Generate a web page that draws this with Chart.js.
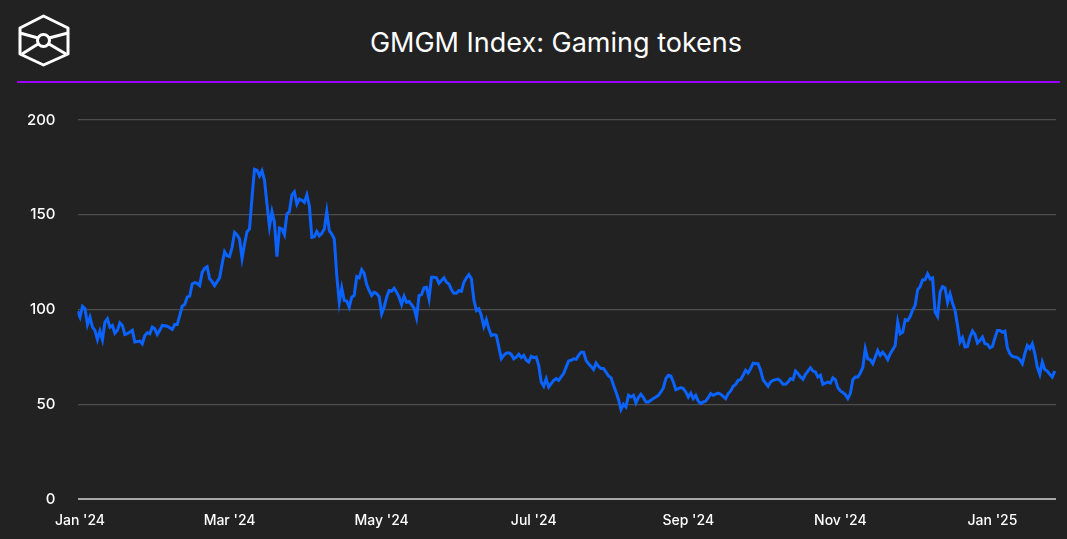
<!DOCTYPE html>
<html>
<head>
<meta charset="utf-8">
<script src="https://cdn.jsdelivr.net/npm/chart.js@4"></script>
<style>
body{margin:0;background:#222222;width:1067px;height:539px;overflow:hidden;font-family:Inter,"Noto Sans",sans-serif;}
#head{position:absolute;left:0;top:0;width:1067px;height:82px;}
#title{position:absolute;left:0;width:1112px;top:26px;text-align:center;color:#fff;font-size:27px;}
#rule{position:absolute;left:17px;top:81px;width:1043px;height:2px;background:#9b00ff;}
#logo{position:absolute;left:14px;top:12px;}
#wrap{position:absolute;left:0;top:84px;width:1067px;height:455px;}
</style>
</head>
<body>
<div id="head">
<svg id="logo" width="60" height="60" viewBox="14 12 60 60">
<g fill="none" stroke="#fff" stroke-width="3" stroke-linejoin="round">
<polygon points="43.5,16 68,28 68,54 43.5,65 20,54 20,28"/>
<circle cx="43.5" cy="40.5" r="6"/>
<line x1="20" y1="33" x2="38" y2="38"/>
<line x1="68" y1="33" x2="49" y2="38"/>
<line x1="22" y1="54" x2="38" y2="44"/>
<line x1="66" y1="54" x2="49" y2="44"/>
</g>
</svg>
<div id="title">GMGM Index: Gaming tokens</div>
<div id="rule"></div>
</div>
<div id="wrap"><canvas id="c"></canvas></div>
<script>
// days since 1 Jan 2024
const days=[-1,0,1,2,3,4,5,6,7,8,9,10,11,12,13,14,15,16,17,18,19,21,22,24,25,26,27,28,29,30,31,32,33,35,36,37,38,39,40,41,42,43,44,45,46,47,48,49,50,51,52,53,54,55,56,57,58,59,60,61,62,63,64,65,66,67,68,69,70,71,72,73,74,75,76,77,78,79,80,81,82,83,84,85,86,87,88,89,90,91,92,93,94,95,96,97,98,99,100,101,102,103,104,105,106,107,108,109,110,111,112,113,114,115,116,117,118,119,120,121,122,123,124,125,126,127,128,129,130,131,132,133,134,135,136,137,138,139,140,141,142,143,144,145,146,147,148,149,150,151,152,153,154,155,156,157,158,159,160,161,162,163,164,165,166,167,168,169,170,171,172,173,174,175,176,177,178,179,180,181,182,183,184,185,186,187,188,189,190,191,192,193,194,195,196,197,198,199,200,201,202,203,204,205,206,207,208,209,210,211,212,213,214,215,216,217,218,219,220,221,222,223,224,225,226,227,228,229,230,231,232,233,234,235,236,237,238,239,240,241,242,243,244,245,246,247,248,249,250,251,252,253,254,255,256,257,258,259,260,261,262,263,264,265,266,267,268,269,270,271,272,273,274,275,276,277,278,279,280,281,282,283,284,285,286,287,288,289,290,291,292,293,294,295,296,297,298,299,300,301,302,303,304,305,306,307,308,309,310,311,312,313,314,315,316,317,318,320,321,322,323,324,325,327,328,329,330,331,332,333,334,335,336,337,338,339,340,341,342,343,344,345,346,347,348,349,350,351,352,353,354,355,356,357,358,359,360,361,362,363,364,365,366,367,368,369,370,371,372,373,374,375,376,377,378,379,380,381,382,383,384,385,386,387,388,389,390,391];
const index=[99.1,96,101.7,100.5,92,96,90.7,89,84.2,88.6,84,93.3,95.1,90.7,91.6,87.5,89,93,91.6,86.8,87.2,89,82.8,83.3,81.9,86.3,87.7,87.2,90.7,89.8,86.8,89,91.6,91.2,90.4,89.5,92.1,92.1,96.8,101.7,102.6,106.5,107,113.5,114.2,113.8,112.6,119.6,121.7,122.6,116.2,114.7,112.6,114.7,116.7,124,130.5,128.4,127.9,132.8,140.7,139.5,137.2,127,134.6,141.1,142.5,159.1,174,173.5,170.5,173.2,168.3,155.6,143.7,151.6,146,127.9,143,142.5,139.5,150.4,151.6,160.5,162.1,155.6,158.3,157.7,156.5,160.5,154.7,138.1,138.4,141.2,138.9,140.2,142.5,151.7,141.6,139.8,137.2,117.9,103.8,111.4,104.7,104.4,101.2,106.5,107.4,117.4,116.7,121,119.1,113.2,110,107.4,109.1,108.3,106.8,97.7,101.2,106.5,110,109.6,111.2,109.1,106.5,102.6,107,103.8,104.2,102.5,100.7,95.6,107.4,107.9,111.4,111.7,105.6,117,117,116.7,113.8,115.3,116.7,114.4,113.5,110.4,108.6,108.6,110,109.6,114.4,116.7,118.4,116.2,105,99.5,100.4,96.8,91,94.6,89.8,86.3,86.8,86.3,80.2,74,75.8,77,77.2,76.3,74,74.9,76.3,74.6,75.8,73.2,72.3,75.3,74.6,74.9,70.5,61.7,59.5,63.5,59.1,60.9,62.6,63.5,62.6,64.4,66.2,69.6,72.8,73.2,74,73.7,75.8,77.5,77.5,73.2,71.4,70,68.3,71.7,70,68.8,68.8,67,64.9,64,60,56.5,52.5,47.2,50,48.6,54.7,53.8,54.7,50.7,53.5,55.3,53.5,51.2,51.2,52.1,53,53.8,54.7,56.5,58.6,63.5,65.3,64.9,61.7,57.7,58.3,58.8,58.3,56.5,53.8,55.9,53,54.7,51.7,50.4,51.2,51.7,53.5,55.6,54.7,55.3,55.9,55.3,54.2,53,55.6,57,59.5,60.5,62.6,63,65.3,67.9,66.5,68.8,71.7,71.4,71.4,67.9,63,61.2,59.5,61.7,62.6,63,63.3,62.3,60.5,60.5,61.7,63.5,63,67.5,66.2,64.4,63.2,65.8,67.5,69.3,67.5,67,64.4,65.3,60.5,61.2,61.7,61.2,64,63,58.8,57,56.2,55.1,53,55.6,63,64.4,64.4,66.5,69.3,79.3,74,73.5,71.4,78.4,75.8,77.5,75.8,73.5,76.7,81,93.3,87.2,88,94.6,94.2,96.3,99.8,102.1,110.4,112.1,115.6,115.8,118.8,116.2,116.7,98.6,96.3,109.1,112.1,111.4,103.8,108.3,103.3,99.5,91.6,82.8,85.1,80.2,80.5,85.4,88.6,86.8,82.3,83.7,85.4,81.9,81.6,79.8,80.5,85.1,88.9,88.9,88,88.6,79.8,76.7,75.3,74.9,74.6,73.5,71.4,76.7,81,79.3,81.9,76.7,69.6,65.8,72.3,68.3,67.5,65.8,64.4,67.5];
const tickDays=[0,60,121,182,244,305,366];
const tickLabels=["Jan '24","Mar '24","May '24","Jul '24","Sep '24","Nov '24","Jan '25"];
const yTicks=[0,50,100,150,200];

const points=days.map((d,i)=>({x:d,y:index[i]}));
const xFont={family:"Inter, 'Noto Sans', sans-serif",size:14,weight:"500"};
const yFont={family:"Inter, 'Noto Sans', sans-serif",size:15,weight:"500"};

new Chart(document.getElementById("c"),{
type:"line",
data:{
datasets:[{
data:points,
borderColor:"#0a62ff",
borderWidth:3,
pointRadius:0,
tension:0
}]
},
options:{
responsive:true,
maintainAspectRatio:false,
animation:false,
layout:{padding:{top:36,right:11,left:0,bottom:0}},
plugins:{legend:{display:false},tooltip:{enabled:false}},
scales:{
x:{
type:"linear",
min:-1,
max:391.5,
afterBuildTicks:s=>{s.ticks=tickDays.map(v=>({value:v}));},
afterFit:s=>{s.height=40;},
ticks:{
color:"#ffffff",
font:xFont,
padding:13,
maxRotation:0,
autoSkip:false,
callback:(v)=>tickLabels[tickDays.indexOf(v)]
},
grid:{display:false,drawTicks:false},
border:{display:false}
},
y:{
min:0,
max:200,
afterBuildTicks:s=>{s.ticks=yTicks.map(v=>({value:v}));},
afterFit:s=>{s.width=77.5;},
ticks:{color:"#ffffff",font:yFont,padding:22},
grid:{
drawTicks:false,
color:c=>c.tick.value===0?"#a8a8a8":"#4e4e4e",
lineWidth:c=>c.tick.value===0?2:1.2
},
border:{display:false}
}
}
}
});
</script>
</body>
</html>
